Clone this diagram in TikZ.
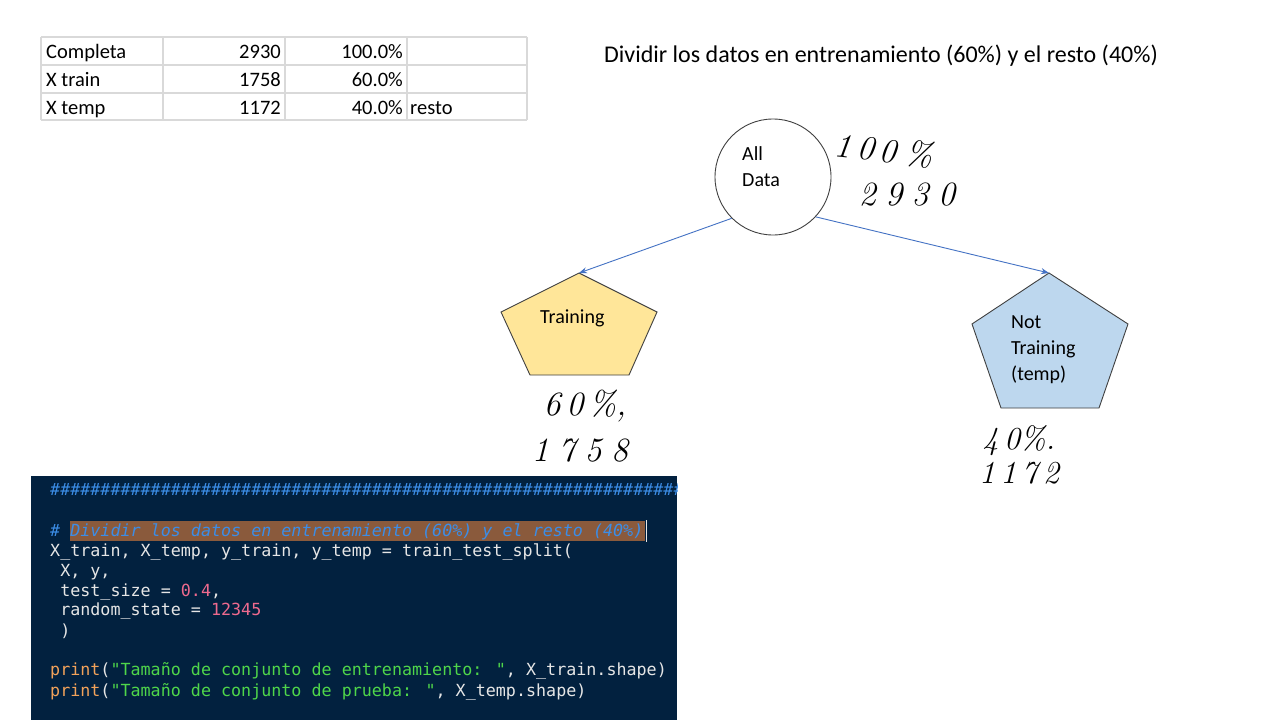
\documentclass[tikz,border=0pt]{standalone}
\usepackage{fontspec}
\setmainfont{Carlito}
\newfontfamily\codefont{DejaVu Sans Mono}
\newfontfamily\handfont{Latin Modern Roman}
\usetikzlibrary{arrows.meta}
\definecolor{gridgray}{HTML}{D9D9D9}
\definecolor{arrowblue}{HTML}{4472C4}
\definecolor{goldfill}{HTML}{FFE699}
\definecolor{bluefill}{HTML}{BDD7EE}
\definecolor{shapeline}{HTML}{404040}
\definecolor{codebg}{HTML}{02213F}
\definecolor{cmtblue}{HTML}{3C8DE6}
\definecolor{hilite}{HTML}{8A5A3C}
\definecolor{numpink}{HTML}{EE6A8E}
\definecolor{fnorange}{HTML}{F2A25A}
\definecolor{strgreen}{HTML}{4FD64A}
\definecolor{codewhite}{HTML}{E6E6E6}
\tikzset{
  tbl/.style={inner sep=0pt, font=\fontsize{20.5}{24}\selectfont},
  lbl/.style={inner sep=0pt, font=\fontsize{20}{26}\selectfont, align=left},
  hand/.style={inner sep=0pt, font=\handfont\itshape\fontsize{34}{36}\selectfont},
  codeln/.style={inner sep=0pt, anchor=base west, font=\codefont\fontsize{16.7}{20}\selectfont, text=codewhite},
  conn/.style={draw=arrowblue, line width=0.9pt, -{Stealth[length=8pt,width=6pt]}},
  pent/.style={draw=shapeline, line width=0.9pt}
}
\begin{document}
\begin{tikzpicture}[x=1pt,y=-1pt]
\useasboundingbox (0,0) rectangle (1280,720);
\fill[white] (0,0) rectangle (1280,720);

% ---- table ----
\foreach \xx in {41,163,285,407,527} \draw[gridgray, line width=1.2pt] (\xx,37) -- (\xx,120);
\foreach \yy in {37,65,93,120} \draw[gridgray, line width=1.2pt] (41,\yy) -- (527,\yy);
\node[tbl, anchor=base west] (r1a) at (46,58) {Completa};
\node[tbl, anchor=base east] (r1b) at (281,58) {2930};
\node[tbl, anchor=base east] (r1c) at (403,58) {100.0\%};
\node[tbl, anchor=base west] (r2a) at (46,86) {X train};
\node[tbl, anchor=base east] (r2b) at (281,86) {1758};
\node[tbl, anchor=base east] (r2c) at (403,86) {60.0\%};
\node[tbl, anchor=base west] (r3a) at (46,114) {X temp};
\node[tbl, anchor=base east] (r3b) at (281,114) {1172};
\node[tbl, anchor=base east] (r3c) at (403,114) {40.0\%};
\node[tbl, anchor=base west] (r3d) at (410,114) {resto};

% ---- title ----
\node[inner sep=0pt, anchor=base west, font=\fontsize{24}{28}\selectfont] (title) at (604,62)
  {Dividir los datos en entrenamiento (60\%) y el resto (40\%)};

% ---- All Data circle ----
\node[draw=shapeline, line width=0.9pt, circle, minimum size=116pt, inner sep=0pt] (alldata) at (773,177) {};
\node[lbl, anchor=north west] (alldatalbl) at (742,146) {All\\Data};

% ---- pentagons ----
\draw[pent, fill=goldfill] (579,273) -- (657,312) -- (629,375) -- (530,375) -- (501,312) -- cycle;
\coordinate (trtop) at (579,273);
\node[lbl, anchor=base west] (trlbl) at (540,323) {Training};

\draw[pent, fill=bluefill] (1049,273) -- (1128,324) -- (1099,408) -- (1001,408) -- (972,324) -- cycle;
\coordinate (nttop) at (1049,273);
\node[lbl, anchor=north west] (ntlbl) at (1011,315) {Not\\Training\\(temp)};

% ---- connectors ----
\draw[conn] (alldata.225) -- (trtop);
\draw[conn] (alldata.-43) -- (nttop);

% ---- handwritten notes ----
\node[hand, rotate=-6] (h100) at (884,150) {1\,0\,0\;\%};
\node[hand] (h2930) at (907,195) {2\;9\;3\;0};
\node[hand] (h60) at (585,406) {6\,0\,\%,};
\node[hand] (h1758) at (580,451) {1\;7\;5\;8};
\node[hand, font=\handfont\itshape\fontsize{32}{34}\selectfont] (h40) at (1019,441) {4\,0\%.};
\node[hand, font=\handfont\itshape\fontsize{32}{34}\selectfont] (h1172) at (1019,473) {1\,1\,7\,2};

% ---- code panel ----
\begin{scope}
\clip (31,476) rectangle (677,720);
\fill[codebg] (31,476) rectangle (677,720);
\fill[hilite] (70,521) rectangle (645,541);
\draw[codewhite, line width=1.5pt] (646.5,520) -- (646.5,542);
\node[codeln, text=cmtblue, font=\codefont\itshape\fontsize{16.7}{20}\selectfont] (c0) at (50,495)
  {\#\#\#\#\#\#\#\#\#\#\#\#\#\#\#\#\#\#\#\#\#\#\#\#\#\#\#\#\#\#\#\#\#\#\#\#\#\#\#\#\#\#\#\#\#\#\#\#\#\#\#\#\#\#\#\#\#\#\#\#\#\#\#\#\#\#};
\node[codeln, text=cmtblue, font=\codefont\itshape\fontsize{16.7}{20}\selectfont] (c1) at (50,536)
  {\# Dividir los datos en entrenamiento (60\%) y el resto (40\%)};
\node[codeln] (c2) at (50,556) {X\_train, X\_temp, y\_train, y\_temp = train\_test\_split(};
\node[codeln] (c3) at (50,576) {\ X, y,};
\node[codeln] (c4) at (50,596) {\ test\_size = \textcolor{numpink}{0.4},};
\node[codeln] (c5) at (50,615) {\ random\_state = \textcolor{numpink}{12345}};
\node[codeln] (c6) at (50,636) {\ )};
\node[codeln] (c7) at (50,675) {\textcolor{fnorange}{print}(\textcolor{strgreen}{"Tamaño de conjunto de entrenamiento: "}, X\_train.shape)};
\node[codeln] (c8) at (50,696) {\textcolor{fnorange}{print}(\textcolor{strgreen}{"Tamaño de conjunto de prueba: "}, X\_temp.shape)};
\end{scope}
\end{tikzpicture}
\end{document}
